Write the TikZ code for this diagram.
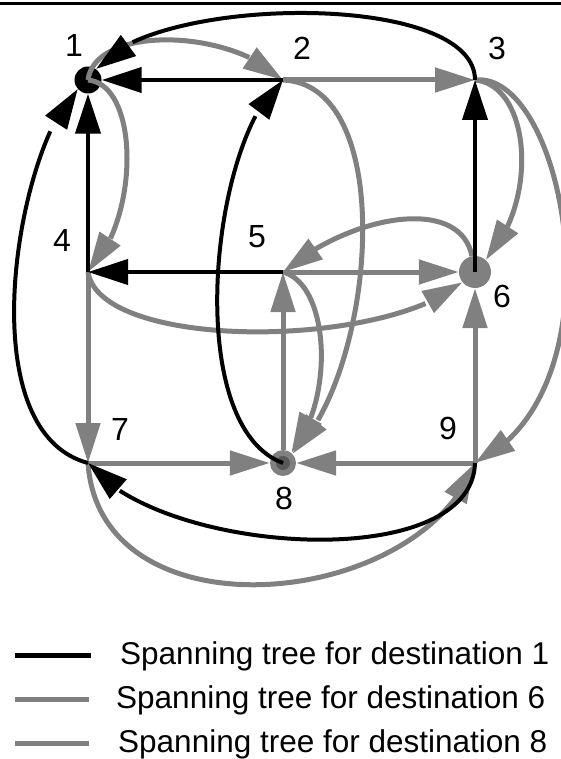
\documentclass[tikz,border=0pt]{standalone}
\usepackage{fontspec}
\setmainfont{Liberation Sans}
\usetikzlibrary{arrows.meta,bending}
\definecolor{grayc}{HTML}{808080}
\begin{document}
\begin{tikzpicture}[x=1pt,y=1pt,
  blk/.style={draw=black, line width=4pt, -{Triangle[length=40pt,width=25pt]}},
  gry/.style={draw=grayc, line width=5pt, -{Triangle[length=40pt,width=24pt]}},
  lbl/.style={font=\fontsize{32}{32}\selectfont, inner sep=0pt},
  leg/.style={font=\fontsize{31.5}{31.5}\selectfont, inner sep=0pt, anchor=base west},
  dot/.style={circle, inner sep=0pt}]
\useasboundingbox (0,0) rectangle (561,-759);
% top rule
\draw[line width=3pt] (0,-4) -- (561,-4);
% nodes
\node[dot, fill=black, minimum size=27pt] (n1) at (88,-80) {};
\coordinate (n2) at (283,-80);
\coordinate (n3) at (475,-80);
\coordinate (n4) at (88,-272);
\coordinate (n5) at (283,-272);
\node[dot, fill=grayc, minimum size=32pt] (n6) at (475,-272) {};
\coordinate (n7) at (88,-463);
\node[dot, fill=grayc, minimum size=26pt] (n8) at (283,-463) {};
\fill[black!65] (n8.center) circle (7pt);
\coordinate (n9) at (475,-463);
% labels
\node[lbl] (l1) at (74,-45) {1};
\node[lbl] (l2) at (302,-48) {2};
\node[lbl] (l3) at (497,-48) {3};
\node[lbl] (l4) at (62,-240) {4};
\node[lbl] (l5) at (257,-237) {5};
\node[lbl] (l6) at (502,-296) {6};
\node[lbl] (l7) at (120,-429) {7};
\node[lbl] (l8) at (284,-498) {8};
\node[lbl] (l9) at (448,-428) {9};
% gray edges
\draw[gry] (n1.center) .. controls (95,-25) and (230,-28) .. (n2);
\draw[gry] (n2) -- (n3);
\draw[gry] (n3) .. controls (530,-85) and (540,-200) .. (n6);
\draw[gry] (n3) .. controls (565,-70) and (625,-390) .. (n9);
\draw[gry] (n4) .. controls (100,-350) and (380,-350) .. (n6);
\draw[gry] (n6) .. controls (460,-195) and (350,-215) .. (n5);
\draw[gry] (n1.center) .. controls (140,-85) and (140,-220) .. (n4);
\draw[gry] (n2) .. controls (400,-85) and (375,-375) .. (n8);
\draw[gry] (n5) .. controls (330,-285) and (335,-400) .. (n8);
\draw[gry] (n7) .. controls (100,-640) and (420,-610) .. (n9);
\draw[gry] (n5) -- (n6);
\draw[gry] (n9) -- (n6);
\draw[gry] (n8) -- (n5);
\draw[gry] (n4) -- (n7);
\draw[gry] (n7) -- (n8);
\draw[gry] (n9) -- (n8);
% black edges
\draw[blk] (n3) .. controls (475,10) and (150,5) .. (n1);
\draw[blk] (n7) .. controls (-35,-430) and (20,-140) .. (n1);
\draw[blk] (n8.center) .. controls (180,-425) and (212,-135) .. (n2);
\draw[blk] (n9) .. controls (472,-575) and (160,-555) .. (n7);
\draw[blk] (n2) -- (n1);
\draw[blk] (n4) -- (n1);
\draw[blk] (n6.center) -- (n3);
\draw[blk] (n5) -- (n4);
% legend
\coordinate (la1) at (15,-655); \coordinate (lb1) at (91,-655);
\coordinate (la2) at (15,-699); \coordinate (lb2) at (89,-699);
\coordinate (la3) at (15,-743); \coordinate (lb3) at (89,-743);
\draw[line width=5pt, black] (la1) -- (lb1);
\draw[line width=5pt, grayc] (la2) -- (lb2);
\draw[line width=5pt, grayc] (la3) -- (lb3);
\node[leg] (t1) at (120,-664) {Spanning tree for destination 1};
\node[leg] (t2) at (116,-708) {Spanning tree for destination 6};
\node[leg] (t3) at (118,-752) {Spanning tree for destination 8};
\end{tikzpicture}
\end{document}
